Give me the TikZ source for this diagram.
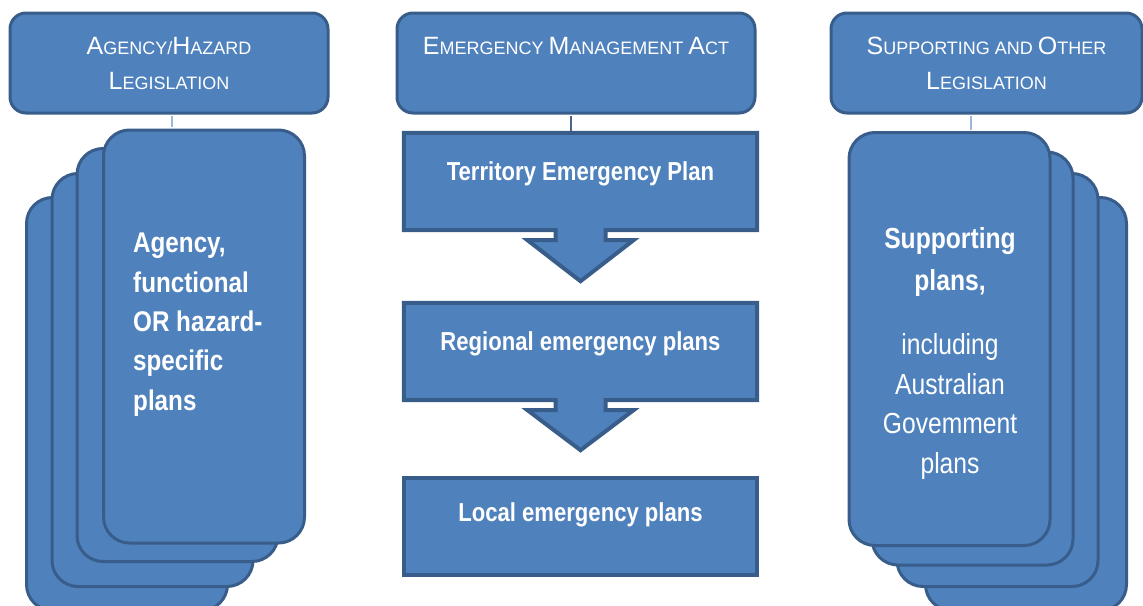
\documentclass[tikz,border=0pt]{standalone}
\usepackage{fontspec}
\setmainfont{Liberation Sans}
\newfontfamily\narrowfont[FakeStretch=0.85]{Liberation Sans}
\definecolor{boxfill}{HTML}{4F81BD}
\definecolor{boxline}{HTML}{385D8A}
\definecolor{linklight}{HTML}{9BB7D9}
\definecolor{linkdark}{HTML}{4D6584}
\newcommand\BC[1]{{\fontsize{25}{35}\selectfont #1}}
\begin{document}
\begin{tikzpicture}[x=1pt,y=-1pt,
  header/.style={draw=boxline, fill=boxfill, line width=3pt, rounded corners=16pt,
    text=white, align=center, inner sep=0pt,
    font=\fontsize{18}{35}\selectfont, minimum height=100pt},
  card/.style={draw=boxline, fill=boxfill, line width=3pt, rounded corners=26pt,
    minimum width=201pt, minimum height=413pt, inner sep=0pt},
  planframe/.style={minimum width=353pt, minimum height=97pt, inner sep=0pt},
  planbox/.style={draw=boxline, fill=boxfill, line width=4pt, line join=miter},
  plantext/.style={text=white, inner sep=0pt, font=\narrowfont\bfseries\fontsize{26}{30}\selectfont},
  cardtext/.style={text=white, inner sep=0pt, font=\narrowfont\fontsize{29}{39.5}\selectfont},
  lightlink/.style={draw=linklight, line width=2pt},
  darklink/.style={draw=linkdark, line width=1.2pt}
]
\useasboundingbox (0,0) rectangle (1143,605);
\clip (0,0) rectangle (1143,605);

% headers
\node[header, minimum width=318pt] (hL) at (169,63) {\BC{A}GENCY/\BC{H}AZARD\\\BC{L}EGISLATION};
\node[header, minimum width=358pt] (hC) at (576,63) {\BC{E}MERGENCY \BC{M}ANAGEMENT \BC{A}CT\\\mbox{}};
\node[header, minimum width=311pt] (hR) at (986.5,63) {\BC{S}UPPORTING AND \BC{O}THER\\\BC{L}EGISLATION};

% left stack of cards (back to front)
\node[card] (cL4) at (127,404) {};
\node[card] (cL3) at (152.5,380) {};
\node[card] (cL2) at (177.5,355) {};
\node[card] (cL1) at (204,336.5) {};
\node[cardtext, font=\narrowfont\bfseries\fontsize{28.5}{39.3}\selectfont, align=left, anchor=north west] (tL) at (133,233)
  {Agency,\\functional\\OR hazard-\\specific\\plans};

% right stack of cards (back to front)
\node[card] (cR4) at (1026,404) {};
\node[card] (cR3) at (997.5,380) {};
\node[card] (cR2) at (972.5,358.5) {};
\node[card] (cR1) at (949.5,339) {};
\node[cardtext, align=center, anchor=north] (tR) at (950,227.5)
  {\textbf{Supporting}\\[2pt]\textbf{plans,}\\[25pt]including\\Australian\\Govemment\\plans};

% centre column
\node[planframe] (tep) at (580.5,181.5) {};
\draw[planbox] (tep.north west) -- (tep.north east) -- (tep.south east)
  -- ([xshift=25pt]tep.south) -- ([xshift=25pt,yshift=-10pt]tep.south)
  -- ([xshift=53pt,yshift=-10pt]tep.south) -- ([yshift=-51pt]tep.south)
  -- ([xshift=-53pt,yshift=-10pt]tep.south) -- ([xshift=-25pt,yshift=-10pt]tep.south)
  -- ([xshift=-25pt]tep.south) -- (tep.south west) -- cycle;
\node[plantext] (tepT) at ([yshift=8pt]tep.center) {Territory Emergency Plan};

\node[planframe] (rep) at (580.5,351.5) {};
\draw[planbox] (rep.north west) -- (rep.north east) -- (rep.south east)
  -- ([xshift=25pt]rep.south) -- ([xshift=25pt,yshift=-10pt]rep.south)
  -- ([xshift=53pt,yshift=-10pt]rep.south) -- ([yshift=-50pt]rep.south)
  -- ([xshift=-53pt,yshift=-10pt]rep.south) -- ([xshift=-25pt,yshift=-10pt]rep.south)
  -- ([xshift=-25pt]rep.south) -- (rep.south west) -- cycle;
\node[plantext] (repT) at ([yshift=8pt]rep.center) {Regional emergency plans};

\node[planframe, planbox] (lep) at (580.5,526) {};
\node[plantext] (lepT) at ([yshift=11.5pt]lep.center) {Local emergency plans};

% connectors
\draw[lightlink, shorten <=1.5pt, shorten >=1.5pt] ([xshift=3pt]hL.south) -- ([xshift=3pt]hL.south |- cL1.north);
\draw[darklink, shorten <=1.5pt, shorten >=2pt] ([xshift=-5pt]hC.south) -- ([xshift=-5pt]hC.south |- tep.north);
\draw[lightlink, shorten <=1.5pt, shorten >=1.5pt] ([xshift=-15.5pt]hR.south) -- ([xshift=-15.5pt]hR.south |- cR1.north);
\end{tikzpicture}
\end{document}
